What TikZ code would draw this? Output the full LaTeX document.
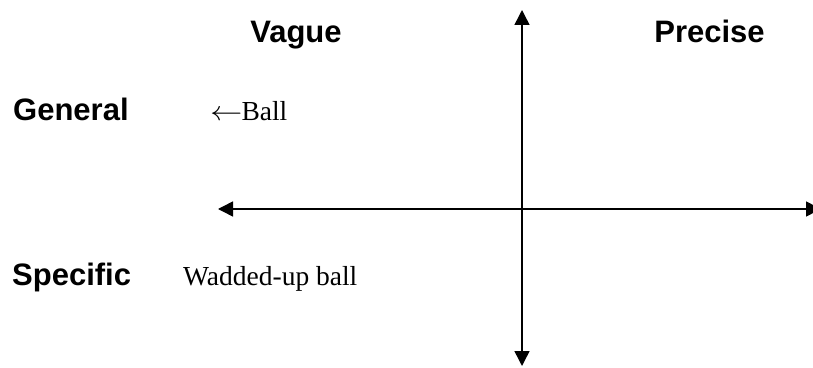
\documentclass[tikz,border=0pt]{standalone}
\usepackage{graphicx}
\usepackage{fontspec}
\setmainfont{Liberation Serif}
\newfontfamily\labelsans{Liberation Sans}
\usetikzlibrary{arrows.meta}
\tikzset{
  heading/.style={font=\labelsans\bfseries\fontsize{31}{37}\selectfont, inner sep=0pt},
  entry/.style={font=\fontsize{27.5}{32}\selectfont, inner sep=0pt},
  axis/.style={line width=1.5pt, {Triangle[length=15pt,width=15pt]}-{Triangle[length=15pt,width=15pt]}}
}
\begin{document}
\begin{tikzpicture}[x=1pt,y=1pt]
\useasboundingbox (0,0) rectangle (813,367);
\clip (0,0) rectangle (813,367);
\coordinate (top) at (522,357);
\coordinate (bottom) at (522,1);
\coordinate (left) at (218,158);
\coordinate (right) at (821,158);
\draw[axis] (bottom) -- (top);
\draw[axis] (left) -- (right);
\node[heading, anchor=base] (vague) at (296,324) {Vague};
\node[heading, anchor=base] (precise) at (709.5,324) {Precise};
\node[heading, anchor=base west] (general) at (13,246) {General};
\node[entry, anchor=base west] (ball) at (210,246) {\scalebox{1.3}[1.1]{$\leftarrow$}\kern-1pt Ball};
\node[heading, anchor=base west] (specific) at (12,82) {Specific};
\node[entry, anchor=base west] (wadded) at (183,82) {Wadded-up ball};
\end{tikzpicture}
\end{document}
